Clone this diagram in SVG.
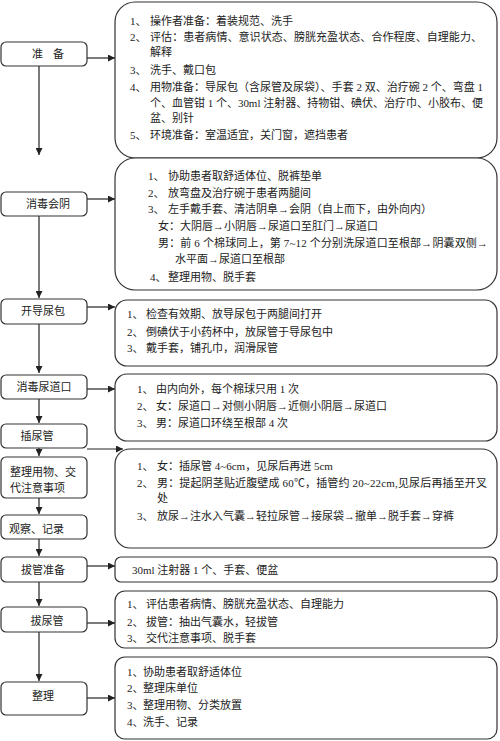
<svg xmlns="http://www.w3.org/2000/svg" width="500" height="741" viewBox="0 0 500 741">
<defs>
<marker id="ah" viewBox="0 0 10 10" refX="10" refY="5" markerWidth="7" markerHeight="7" markerUnits="userSpaceOnUse" orient="auto"><path d="M0,0 L10,5 L0,10 z" fill="#222"/></marker>
<style>
.n{fill:#fff;stroke:#333;stroke-width:1.2}
.t{font-family:"Liberation Serif","Noto Sans CJK SC",serif;font-size:11px;fill:#222}
.c{text-anchor:middle}
.e{fill:none;stroke:#222;stroke-width:1.2;marker-end:url(#ah)}
</style>
</defs>
<rect width="500" height="741" fill="#fff"/>
<g id="connectors">
<path class="e" d="M39,66 V155"/>
<path class="e" d="M39,216 V298"/>
<path class="e" d="M39,324 V373"/>
<path class="e" d="M39,399 V423"/>
<path class="e" d="M39,448 V456"/>
<path class="e" d="M39,498 V514"/>
<path class="e" d="M39,539 V556"/>
<path class="e" d="M39,582 V606"/>
<path class="e" d="M39,632 V681"/>
<path class="e" d="M87,58 H115"/>
<path class="e" d="M87,199 H115"/>
<path class="e" d="M87,307 H115"/>
<path class="e" d="M87,389 H115"/>
<path class="e" d="M87,449 H123"/>
<path class="e" d="M87,566 H115"/>
<path class="e" d="M87,623 H115"/>
<path class="e" d="M87,698 H115"/>
</g>
<g id="prep">
<rect class="n" x="1" y="42" width="86" height="24" rx="5"/>
<text class="t" x="32" y="58">准</text><text class="t" x="53" y="58">备</text>
</g>
<g id="prep-detail">
<rect class="n" x="115" y="2" width="382" height="156" rx="20"/>
<text class="t"><tspan x="130" y="25">1、</tspan><tspan x="150" y="25">操作者准备：着装规范、洗手</tspan></text>
<text class="t"><tspan x="130" y="41">2、</tspan><tspan x="150" y="41" textLength="332" lengthAdjust="spacing">评估：患者病情、意识状态、膀胱充盈状态、合作程度、自理能力、</tspan></text>
<text class="t" x="150" y="56">解释</text>
<text class="t"><tspan x="130" y="74">3、</tspan><tspan x="150" y="74">洗手、戴口包</tspan></text>
<text class="t"><tspan x="130" y="91">4、</tspan><tspan x="150" y="91" textLength="333" lengthAdjust="spacing">用物准备：导尿包（含尿管及尿袋）、手套 2 双、治疗碗 2 个、弯盘 1</tspan></text>
<text class="t" x="150" y="107" textLength="333" lengthAdjust="spacing">个、血管钳 1 个、30ml 注射器、持物钳、碘伏、治疗巾、小胶布、便</text>
<text class="t" x="150" y="122">盆、别针</text>
<text class="t"><tspan x="130" y="139">5、</tspan><tspan x="150" y="139">环境准备：室温适宜，关门窗，遮挡患者</tspan></text>
</g>
<g id="disinfect-perineum">
<rect class="n" x="1" y="192" width="86" height="24" rx="5"/>
<text class="t c" x="48" y="208">消毒会阴</text>
</g>
<g id="disinfect-perineum-detail">
<rect class="n" x="115" y="158" width="382" height="132" rx="20"/>
<text class="t"><tspan x="148" y="180">1、</tspan><tspan x="168" y="180">协助患者取舒适体位、脱裤垫单</tspan></text>
<text class="t"><tspan x="148" y="197">2、</tspan><tspan x="168" y="197">放弯盘及治疗碗于患者两腿间</tspan></text>
<text class="t"><tspan x="148" y="213">3、</tspan><tspan x="168" y="213">左手戴手套、清洁阴阜→会阴（自上而下，由外向内）</tspan></text>
<text class="t" x="158" y="230">女：大阴唇→小阴唇→尿道口至肛门→尿道口</text>
<text class="t" x="158" y="247" textLength="330" lengthAdjust="spacing">男：前 6 个棉球同上，第 7~12 个分别洗尿道口至根部→阴囊双侧→</text>
<text class="t" x="175" y="263">水平面→尿道口至根部</text>
<text class="t"><tspan x="150" y="281">4、</tspan><tspan x="168" y="281">整理用物、脱手套</tspan></text>
</g>
<g id="open-kit">
<rect class="n" x="1" y="299" width="86" height="25" rx="5"/>
<text class="t c" x="43" y="315">开导尿包</text>
</g>
<g id="open-kit-detail">
<rect class="n" x="115" y="300" width="382" height="66" rx="12"/>
<text class="t"><tspan x="127" y="318">1、</tspan><tspan x="146" y="318">检查有效期、放导尿包于两腿间打开</tspan></text>
<text class="t"><tspan x="127" y="336">2、</tspan><tspan x="146" y="336">倒碘伏于小药杯中，放尿管于导尿包中</tspan></text>
<text class="t"><tspan x="127" y="352">3、</tspan><tspan x="146" y="352">戴手套，铺孔巾，润滑尿管</tspan></text>
</g>
<g id="disinfect-urethra">
<rect class="n" x="1" y="375" width="86" height="24" rx="5"/>
<text class="t c" x="44" y="391">消毒尿道口</text>
</g>
<g id="disinfect-urethra-detail">
<rect class="n" x="115" y="374" width="382" height="67" rx="12"/>
<text class="t"><tspan x="137" y="393">1、</tspan><tspan x="156" y="393">由内向外，每个棉球只用 1 次</tspan></text>
<text class="t"><tspan x="137" y="410">2、</tspan><tspan x="156" y="410">女：尿道口→对侧小阴唇→近侧小阴唇→尿道口</tspan></text>
<text class="t"><tspan x="137" y="427">3、</tspan><tspan x="156" y="427">男：尿道口环绕至根部 4 次</tspan></text>
</g>
<g id="insert">
<rect class="n" x="1" y="424" width="86" height="24" rx="5"/>
<text class="t c" x="37" y="440">插尿管</text>
</g>
<g id="insert-detail">
<rect class="n" x="115" y="449" width="382" height="99" rx="15"/>
<text class="t"><tspan x="137" y="470">1、</tspan><tspan x="157" y="470">女：插尿管 4~6cm，见尿后再进 5cm</tspan></text>
<text class="t"><tspan x="137" y="487">2、</tspan><tspan x="157" y="487" textLength="330" lengthAdjust="spacing">男：提起阴茎贴近腹壁成 60℃，插管约 20~22cm,见尿后再插至开叉</tspan></text>
<text class="t" x="157" y="502">处</text>
<text class="t"><tspan x="137" y="520">3、</tspan><tspan x="157" y="520">放尿→注水入气囊→轻拉尿管→接尿袋→撤单→脱手套→穿裤</tspan></text>
</g>
<g id="tidy-explain">
<rect class="n" x="1" y="457" width="86" height="41" rx="5"/>
<text class="t" x="10" y="476">整理用物、交</text>
<text class="t" x="10" y="492">代注意事项</text>
</g>
<g id="observe">
<rect class="n" x="1" y="515" width="86" height="24" rx="5"/>
<text class="t" x="9" y="533">观察、记录</text>
</g>
<g id="remove-prep">
<rect class="n" x="1" y="557" width="86" height="25" rx="5"/>
<text class="t c" x="43" y="574">拔管准备</text>
</g>
<g id="remove-prep-detail">
<rect class="n" x="115" y="557" width="382" height="25" rx="6"/>
<text class="t" x="132" y="574">30ml 注射器 1 个、手套、便盆</text>
</g>
<g id="remove">
<rect class="n" x="1" y="607" width="86" height="25" rx="5"/>
<text class="t c" x="47" y="625">拔尿管</text>
</g>
<g id="remove-detail">
<rect class="n" x="115" y="591" width="382" height="57" rx="10"/>
<text class="t"><tspan x="127" y="608">1、</tspan><tspan x="146" y="608">评估患者病情、膀胱充盈状态、自理能力</tspan></text>
<text class="t"><tspan x="127" y="626">2、</tspan><tspan x="146" y="626">拔管：抽出气囊水，轻拔管</tspan></text>
<text class="t"><tspan x="127" y="642">3、</tspan><tspan x="146" y="642">交代注意事项、脱手套</tspan></text>
</g>
<g id="tidy">
<rect class="n" x="1" y="682" width="86" height="33" rx="5"/>
<text class="t c" x="43" y="700">整理</text>
</g>
<g id="tidy-detail">
<rect class="n" x="115" y="657" width="382" height="82" rx="10"/>
<text class="t"><tspan x="127" y="676">1、</tspan><tspan x="143" y="676">协助患者取舒适体位</tspan></text>
<text class="t"><tspan x="127" y="692">2、</tspan><tspan x="143" y="692">整理床单位</tspan></text>
<text class="t"><tspan x="127" y="709">3、</tspan><tspan x="143" y="709">整理用物、分类放置</tspan></text>
<text class="t"><tspan x="127" y="726">4、</tspan><tspan x="143" y="726">洗手、记录</tspan></text>
</g>
</svg>
